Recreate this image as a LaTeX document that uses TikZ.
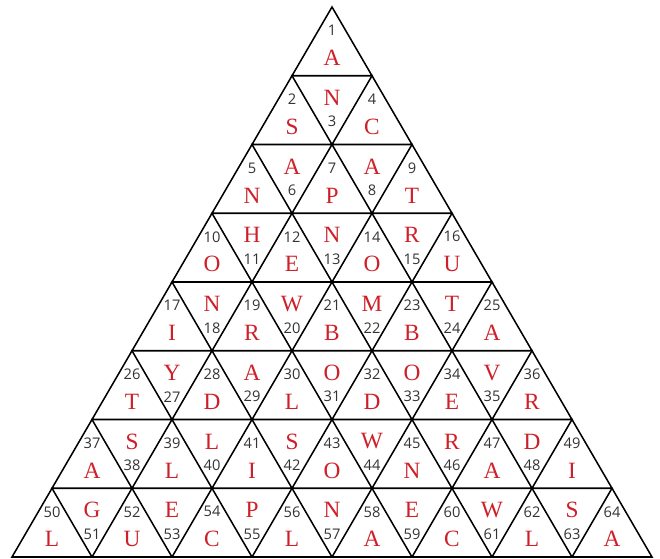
\documentclass[tikz,border=0pt]{standalone}
\usepackage{fontspec}
\setmainfont{Liberation Serif}
\newfontfamily\numfont{Open Sans}
\definecolor{letred}{RGB}{206,32,41}
\definecolor{numgray}{RGB}{51,51,51}
\begin{document}
\begin{tikzpicture}[x=0.75pt,y=-0.75pt,
  tri/.style={draw=black,line width=1.15pt,line join=miter},
  numlabel/.style={font=\numfont\fontsize{11}{11}\selectfont,text=numgray,inner sep=0pt},
  letlabel/.style={font=\fontsize{17.5}{17.5}\selectfont,text=letred,inner sep=0pt}]
\useasboundingbox (0,0) rectangle (660,558);
\foreach \rr in {0,...,7}{
  \foreach \kk in {0,...,\rr}{
    \pgfmathsetmacro\ax{332-40*\rr+80*\kk}
    \pgfmathsetmacro\ay{7+68.75*\rr}
    \draw[tri] (\ax,\ay) -- (\ax-40,\ay+68.75) -- (\ax+40,\ay+68.75) -- cycle;
  }
}
\foreach \nn/\lt in {1/A,2/S,3/N,4/C,5/N,6/A,7/P,8/A,9/T,10/O,11/H,12/E,13/N,14/O,15/R,16/U,
  17/I,18/N,19/R,20/W,21/B,22/M,23/B,24/T,25/A,26/T,27/Y,28/D,29/A,30/L,31/O,32/D,33/O,34/E,35/V,36/R,
  37/A,38/S,39/L,40/L,41/I,42/S,43/O,44/W,45/N,46/R,47/A,48/D,49/I,
  50/L,51/G,52/U,53/E,54/C,55/P,56/L,57/N,58/A,59/E,60/C,61/W,62/L,63/S,64/A}{
  \pgfmathtruncatemacro\rr{floor(sqrt(\nn-1)+0.001)}
  \pgfmathtruncatemacro\jj{\nn-1-\rr*\rr}
  \pgfmathsetmacro\cx{332-40*\rr+40*\jj}
  \pgfmathsetmacro\rowtop{7+68.75*\rr}
  \ifodd\jj
    \node[letlabel] (l\nn) at (\cx,\rowtop+22) {\lt};
    \node[numlabel] (n\nn) at (\cx,\rowtop+46) {\nn};
  \else
    \node[numlabel] (n\nn) at (\cx,\rowtop+23.5) {\nn};
    \node[letlabel] (l\nn) at (\cx,\rowtop+51) {\lt};
  \fi
}
\end{tikzpicture}
\end{document}
